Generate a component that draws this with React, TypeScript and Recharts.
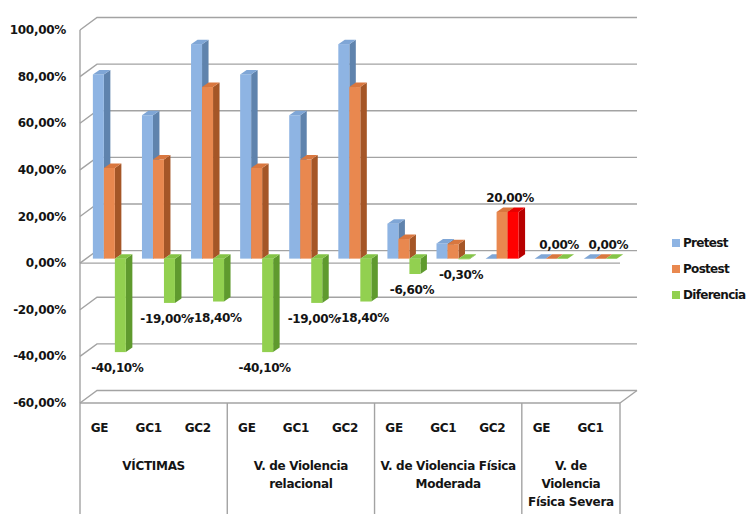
import React from 'react';
import {
  ComposedChart,
  Bar,
  XAxis,
  YAxis,
  CartesianGrid,
  Legend,
  LabelList,
  Cell,
} from 'recharts';

// ---- data -------------------------------------------------------------
const categories = ['GE', 'GC1', 'GC2', 'GE', 'GC1', 'GC2', 'GE', 'GC1', 'GC2', 'GE', 'GC1'];
const groupSizes = [3, 3, 3, 2];
const groupLines = [
  ['VÍCTIMAS'],
  ['V. de Violencia', 'relacional'],
  ['V. de Violencia Física', 'Moderada'],
  ['V. de', 'Violencia', 'Física Severa'],
];
const pretest = [79.0, 61.5, 92.0, 79.0, 61.5, 92.0, 15.0, 6.5, 0, 0, 0];
const postest = [38.9, 42.5, 73.6, 38.9, 42.5, 73.6, 8.4, 6.2, 20.0, 0, 0];
const diferencia = [-40.1, -19.0, -18.4, -40.1, -19.0, -18.4, -6.6, -0.3, 20.0, 0, 0];
const yTicks = [-60, -40, -20, 0, 20, 40, 60, 80, 100];
const seriesNames = ['Pretest', 'Postest', 'Diferencia'];

const rows = categories.map((cat, i) => ({
  cat,
  pre: pretest[i],
  post: postest[i],
  diff: diferencia[i],
}));

// ---- geometry ---------------------------------------------------------
const W = 747;
const H = 514;
const MARGIN = { top: 30, right: 127, bottom: 0, left: 8 };
const Y_AXIS_W = 72;
const X_AXIS_H = 111;
const PLOT_LEFT = MARGIN.left + Y_AXIS_W;
const PLOT_W = W - PLOT_LEFT - MARGIN.right;
const PLOT_TOP = MARGIN.top;
const PLOT_BOTTOM = H - X_AXIS_H - MARGIN.bottom;
const PLOT_H = PLOT_BOTTOM - PLOT_TOP;
const Y_MIN = -60;
const Y_MAX = 100;
const ZERO_Y = PLOT_TOP + (PLOT_H * (Y_MAX - 0)) / (Y_MAX - Y_MIN);

// oblique projection: back wall offset and column placement inside the depth
const WALL_DX = 17;
const WALL_DY = 12.5;
const OX = 5.5;
const OY = 4.5;
const DX = 6.5;
const DY = 4.5;

const FONT = '"DejaVu Sans", Verdana, sans-serif';
const TEXT = '#141414';
const GRID = '#a3a3a3';

const BLUE = '#8eb4e3';
const ORANGE = '#e9884f';
const GREEN = '#92d050';
const RED = '#ff0000';

const SHADES: Record<string, { front: string; side: string; top: string }> = {
  [BLUE]: { front: BLUE, side: '#5f83ad', top: '#7fa6d6' },
  [ORANGE]: { front: ORANGE, side: '#a55627', top: '#d9773f' },
  [GREEN]: { front: GREEN, side: '#5f9a2e', top: '#84c446' },
  [RED]: { front: RED, side: '#b80000', top: '#e80000' },
};

const fmt = (v: number) => `${v.toFixed(2).replace('.', ',')}%`;

// 3D column: side face, front face, top face
const Prism = (props: any) => {
  const { x, y, width, height, fill } = props;
  if (x == null || y == null) return null;
  const pal = SHADES[fill] ?? SHADES[BLUE];
  const h = height ?? 0;
  const top = Math.min(y, y + h) - OY;
  const bot = Math.max(y, y + h) - OY;
  const fx = x + OX;
  const w = width;
  const side = `${fx + w},${top} ${fx + w + DX},${top - DY} ${fx + w + DX},${bot - DY} ${fx + w},${bot}`;
  const lid = `${fx},${top} ${fx + DX},${top - DY} ${fx + w + DX},${top - DY} ${fx + w},${top}`;
  return (
    <g>
      <polygon points={side} fill={pal.side} />
      <rect x={fx} y={top} width={w} height={bot - top} fill={pal.front} />
      <polygon points={lid} fill={pal.top} />
    </g>
  );
};

const DiffLabel = (p: any) => {
  const vb = p.viewBox ?? p;
  const { x, y, width, height } = vb;
  const value = Number(p.value);
  if (x == null || y == null || Number.isNaN(value)) return null;
  const top = Math.min(y, y + height) - OY;
  const bot = Math.max(y, y + height) - OY;
  const cx = x + OX + width / 2 - 3;
  const ty = value < 0 ? bot + 16 : top - 14;
  return (
    <text
      x={cx}
      y={ty}
      textAnchor="middle"
      dominantBaseline="central"
      fontFamily={FONT}
      fontWeight="bold"
      fontSize={12}
      letterSpacing={-0.4}
      fill={TEXT}
    >
      {fmt(value)}
    </text>
  );
};

// back-wall gridline: left wall diagonal, then across the back wall
const GridLine = (p: any) => {
  const { x1, x2, y1 } = p;
  const d = `M${x1},${y1}L${x1 + WALL_DX},${y1 - WALL_DY}L${x2 + WALL_DX},${y1 - WALL_DY}`;
  const isFloor = Math.abs(y1 - PLOT_BOTTOM) < 1;
  const isZero = Math.abs(y1 - ZERO_Y) < 1;
  return (
    <g key={p.key}>
      <path d={d} stroke={GRID} strokeWidth={1.4} fill="none" />
      {(isFloor || isZero) && (
        <line x1={x1} y1={y1} x2={x2} y2={y1} stroke={GRID} strokeWidth={1.4} />
      )}
      {isFloor && (
        <line x1={x2} y1={y1} x2={x2 + WALL_DX} y2={y1 - WALL_DY} stroke={GRID} strokeWidth={1.4} />
      )}
    </g>
  );
};

const YTick = (p: any) => (
  <text
    x={66}
    y={p.y}
    textAnchor="end"
    dominantBaseline="central"
    fontFamily={FONT}
    fontWeight="bold"
    fontSize={12}
    letterSpacing={-0.3}
    fill={TEXT}
  >
    {fmt(Number(p.payload.value))}
  </text>
);

const groupStarts = groupSizes.reduce<number[]>((acc, n, i) => {
  acc.push(i === 0 ? 0 : acc[i - 1] + groupSizes[i - 1]);
  return acc;
}, []);

const CategoryTick = (p: any) => {
  const { x, index, payload } = p;
  const band = PLOT_W / categories.length;
  const left = x - band / 2;
  const gi = groupStarts.indexOf(index);
  return (
    <g>
      <text
        x={x - 5}
        y={428}
        textAnchor="middle"
        dominantBaseline="central"
        fontFamily={FONT}
        fontWeight="bold"
        fontSize={12}
        letterSpacing={-0.3}
        fill={TEXT}
      >
        {payload.value}
      </text>
      {gi >= 0 && (
        <g>
          <line x1={left} y1={PLOT_BOTTOM} x2={left} y2={H} stroke={GRID} strokeWidth={1.4} />
          <text
            textAnchor="middle"
            dominantBaseline="central"
            fontFamily={FONT}
            fontWeight="bold"
            fontSize={12}
            letterSpacing={-0.3}
            fill={TEXT}
          >
            {groupLines[gi].map((line, k) => (
              <tspan key={k} x={left + (groupSizes[gi] * band) / 2} y={466 + 18 * k}>
                {line}
              </tspan>
            ))}
          </text>
        </g>
      )}
      {index === categories.length - 1 && (
        <line
          x1={x + band / 2}
          y1={PLOT_BOTTOM}
          x2={x + band / 2}
          y2={H}
          stroke={GRID}
          strokeWidth={1.4}
        />
      )}
    </g>
  );
};

const LegendBox = (p: any) => {
  const items = [...((p.payload ?? []) as any[])].sort(
    (a, b) => seriesNames.indexOf(a.value) - seriesNames.indexOf(b.value),
  );
  return (
    <div style={{ fontFamily: FONT, fontWeight: 'bold', fontSize: 12, color: TEXT, whiteSpace: 'nowrap' }}>
      {items.map((it, i) => (
        <div key={i} style={{ display: 'flex', alignItems: 'center', height: 26 }}>
          <span
            style={{ display: 'inline-block', width: 8, height: 8, background: it.color, marginRight: 3 }}
          />
          <span style={{ letterSpacing: -0.7 }}>{it.value}</span>
        </div>
      ))}
    </div>
  );
};

export default function App() {
  return (
    <div
      style={{
        position: 'absolute',
        left: 0,
        top: 0,
        width: W,
        height: H,
        overflow: 'hidden',
        background: '#fff',
      }}
    >
      <ComposedChart width={W} height={H} data={rows} margin={MARGIN} barCategoryGap="15%" barGap={0}>
        <CartesianGrid vertical={false} horizontal={GridLine} />
        <YAxis
          type="number"
          domain={[Y_MIN, Y_MAX]}
          ticks={yTicks}
          interval={0}
          width={Y_AXIS_W}
          axisLine={{ stroke: GRID, strokeWidth: 1.4 }}
          tickLine={false}
          tick={YTick}
        />
        <XAxis
          dataKey="cat"
          height={X_AXIS_H}
          interval={0}
          axisLine={false}
          tickLine={false}
          tick={CategoryTick}
        />
        <Legend
          layout="horizontal"
          verticalAlign="middle"
          align="center"
          content={LegendBox}
          wrapperStyle={{ left: 672, top: 230, width: 75 }}
        />
        <Bar dataKey="pre" name={seriesNames[0]} fill={BLUE} shape={Prism} isAnimationActive={false} />
        <Bar dataKey="post" name={seriesNames[1]} fill={ORANGE} shape={Prism} isAnimationActive={false} />
        <Bar dataKey="diff" name={seriesNames[2]} fill={GREEN} shape={Prism} isAnimationActive={false}>
          {diferencia.map((v, i) => (
            <Cell key={i} fill={v > 0 ? RED : GREEN} />
          ))}
          <LabelList dataKey="diff" content={DiffLabel} />
        </Bar>
      </ComposedChart>
    </div>
  );
}
